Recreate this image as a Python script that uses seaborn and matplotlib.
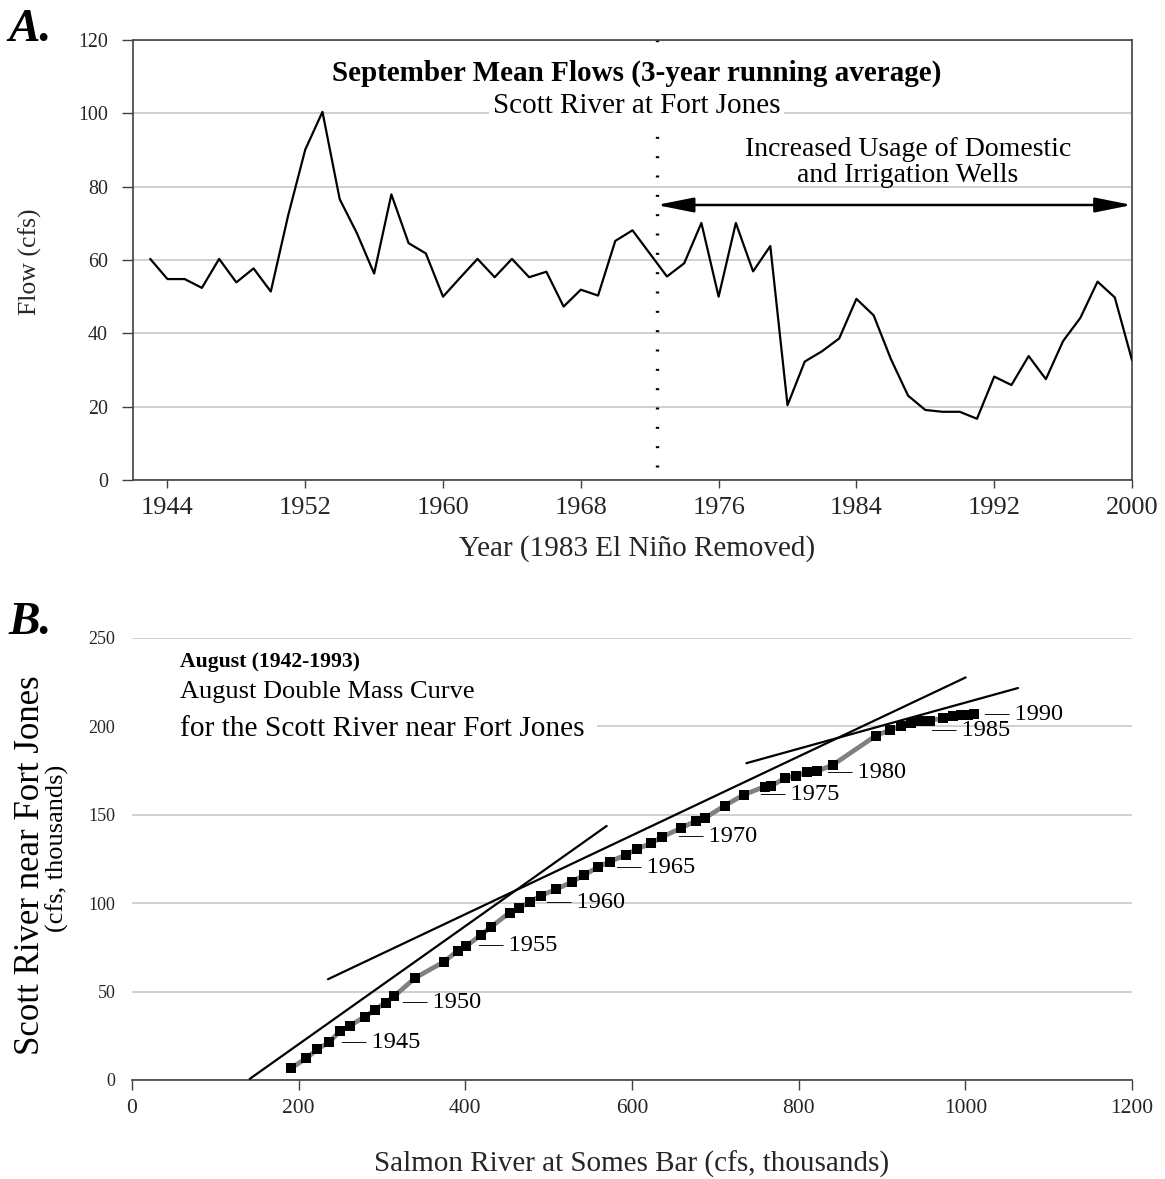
import pandas as pd
import seaborn as sns
import matplotlib.pyplot as plt
from matplotlib.patches import Rectangle

# Panel A: September mean flows, 3-year running average (cfs)
years = list(range(1943, 2001))
flows = [60.3, 54.8, 54.8, 52.4, 60.3, 53.9, 57.7, 51.4, 72.0, 90.1,
         100.4, 76.6, 67.3, 56.3, 77.9, 64.6, 61.8, 50.0, 55.2, 60.3,
         55.3, 60.3, 55.3, 56.8, 47.3, 51.9, 50.3, 65.2, 68.1, 61.8,
         55.5, 59.1, 70.1, 50.0, 70.1, 56.9, 63.8, 20.4, 32.3, 35.1,
         38.6, 49.4, 44.9, 33.0, 23.0, 19.1, 18.6, 18.6, 16.7, 28.2,
         25.9, 33.8, 27.5, 37.9, 44.2, 54.1, 49.8, 32.7]
wells_start = 1972.4
x_ticks_a = list(range(1944, 2001, 8))
y_ticks_a = list(range(0, 121, 20))

# Panel B: August double mass curve (cfs, thousands)
mass_years = list(range(1942, 1994))
salmon = [190.4, 209.3, 222.5, 236.4, 250.1, 261.2, 279.2, 291.2, 304.4, 314.9,
          339.6, 374.1, 391.2, 401.3, 418.4, 430.4, 453.2, 464.0, 477.3, 490.4,
          509.3, 528.5, 542.9, 558.9, 573.3, 592.5, 606.0, 623.3, 636.3, 658.4,
          677.3, 687.2, 711.3, 734.1, 759.3, 767.3, 783.3, 796.5, 809.7, 821.7,
          841.2, 892.5, 909.9, 923.3, 935.3, 945.3, 957.3, 973.3, 984.9, 994.5,
          1002.9, 1010.1]
scott = [6.6, 12.3, 17.4, 21.3, 27.9, 30.6, 35.8, 39.6, 43.8, 47.5,
         57.7, 66.8, 73.2, 75.8, 81.9, 86.4, 94.7, 97.2, 100.6, 104.3,
         107.9, 112.2, 116.0, 120.4, 123.5, 127.3, 130.6, 134.0, 137.5, 142.4,
         146.7, 148.1, 155.2, 161.3, 166.0, 166.4, 170.7, 172.0, 174.0, 174.5,
         178.3, 194.7, 198.1, 200.0, 202.2, 203.2, 203.3, 204.7, 205.6, 206.3,
         206.7, 207.0]
trend_x = [[141.2, 569.6], [235.2, 1000.4], [737.3, 1063.2]]
trend_y = [[0.6, 143.7], [57.0, 227.7], [179.2, 221.7]]
label_years = [1945, 1950, 1955, 1960, 1965, 1970, 1975, 1980, 1985, 1990]

# label offsets in pixels (dx, dy)
label_offsets = {1945: (12, 0), 1950: (16, 0), 1955: (12, 0), 1960: (16, 0),
                 1965: (18, 0), 1970: (16, 0), 1975: (16, 0), 1980: (20, 0),
                 1985: (30, -4), 1990: (31, 2)}

sns.set_theme(style="white")
plt.rcParams["font.family"] = ["Liberation Serif", "DejaVu Serif"]
plt.rcParams["text.color"] = "black"

W, H = 1165, 1179
fig = plt.figure(figsize=(W / 100, H / 100), dpi=100)


def px_axes(left, top, right, bottom):
    return fig.add_axes([left / W, 1 - bottom / H, (right - left) / W, (bottom - top) / H])


spine_col = "#404040"
grid_col = "#c8c8c8"

# ---------------- Panel A ----------------
ax1 = px_axes(133, 40, 1132, 480)
dfa = pd.DataFrame({"year": years, "flow": flows})
sns.lineplot(data=dfa, x="year", y="flow", color="black", lw=1.6, ax=ax1, zorder=3)
ax1.set_xlim(1942, 2000)
ax1.set_ylim(0, 120)
ax1.set_xticks(x_ticks_a)
ax1.set_yticks(y_ticks_a)
ax1.yaxis.grid(True, color=grid_col, lw=1.2)
ax1.xaxis.grid(False)
ax1.set_axisbelow(True)
for s in ax1.spines.values():
    s.set_color(spine_col)
    s.set_linewidth(1.2)
ax1.tick_params(axis="x", bottom=True, direction="out", length=6, width=1,
                color=spine_col, labelsize=19, pad=6)
ax1.tick_params(axis="y", left=True, direction="out", length=8, width=1,
                color=spine_col, labelsize=14.4, pad=10)

ax1.axvline(wells_start, ymin=0.03, ymax=1, color="black", lw=2.4,
            linestyle=(0, (0.6, 5.2)), zorder=2)
ax1.annotate("", xy=(2000, 75), xytext=(wells_start, 75),
             arrowprops=dict(arrowstyle="<|-|>,head_length=1.5,head_width=0.3",
                             color="black", lw=1.8, mutation_scale=15,
                             shrinkA=0, shrinkB=0))
ax1.text(1987, 86.7, "Increased Usage of Domestic\nand Irrigation Wells",
         ha="center", va="center", fontsize=20, linespacing=1.05)
ax1.text(0.504, 0.925, "September Mean Flows (3-year running average)",
         transform=ax1.transAxes, ha="center", va="center", fontsize=21,
         fontweight="bold", zorder=4,
         bbox=dict(facecolor="white", edgecolor="none", pad=1))
ax1.text(0.504, 0.85, "Scott River at Fort Jones", transform=ax1.transAxes,
         ha="center", va="center", fontsize=21, zorder=4,
         bbox=dict(facecolor="white", edgecolor="none", pad=3))

ax1.set_xlabel("Year (1983 El Niño Removed)", fontsize=21)
ax1.xaxis.set_label_coords(0.505, -0.125)
ax1.set_ylabel("Flow (cfs)", fontsize=18.5)
ax1.yaxis.set_label_coords(-0.0915, 0.495)

# ---------------- Panel B ----------------
ax2 = px_axes(132, 638, 1132, 1080)
dfb = pd.DataFrame({"year": mass_years, "salmon": salmon, "scott": scott})
sns.lineplot(data=dfb, x="salmon", y="scott", color="#808080", lw=3.4,
             sort=False, ax=ax2, zorder=2)
sns.scatterplot(data=dfb, x="salmon", y="scott", marker="s", s=58,
                color="black", edgecolor="black", linewidth=0, ax=ax2, zorder=3)
for tx, ty in zip(trend_x, trend_y):
    ax2.plot(tx, ty, color="black", lw=1.6, zorder=4)

ax2.set_xlim(0, 1200)
ax2.set_ylim(0, 250)
ax2.set_xticks(range(0, 1201, 200))
ax2.set_yticks(range(0, 251, 50))
ax2.yaxis.grid(True, color=grid_col, lw=1.2)
ax2.xaxis.grid(False)
ax2.set_axisbelow(True)
for name, s in ax2.spines.items():
    s.set_visible(name == "bottom")
ax2.spines["bottom"].set_color(spine_col)
ax2.spines["bottom"].set_linewidth(1.2)
ax2.tick_params(axis="x", bottom=True, direction="out", length=7, width=1,
                color=spine_col, labelsize=15.5, pad=7)
ax2.tick_params(axis="y", left=False, length=0, labelsize=13, pad=12)

ax2.add_patch(Rectangle((0, 0.77), 0.465, 0.22, transform=ax2.transAxes,
                        facecolor="white", edgecolor="none", zorder=1))
ax2.text(0.0477, 0.946, "August (1942-1993)", transform=ax2.transAxes,
         ha="left", va="center", fontsize=15.6, fontweight="bold", zorder=5)
ax2.text(0.0477, 0.878, "August Double Mass Curve", transform=ax2.transAxes,
         ha="left", va="center", fontsize=19, zorder=5)
ax2.text(0.0477, 0.795, "for the Scott River near Fort Jones",
         transform=ax2.transAxes, ha="left", va="center", fontsize=21.2, zorder=5)

for yr in label_years:
    row = dfb[dfb["year"] == yr].iloc[0]
    dx, dy = label_offsets[yr]
    ax2.annotate(f"— {yr}", xy=(row["salmon"], row["scott"]),
                 xytext=(dx * 0.72, dy * 0.72), textcoords="offset points",
                 ha="left", va="center", fontsize=17.6, zorder=5)

ax2.set_xlabel("Salmon River at Somes Bar (cfs, thousands)", fontsize=21)
ax2.xaxis.set_label_coords(0.5, -0.16)
ax2.set_ylabel("")
ax2.text(-0.101, 0.486, "Scott River near Fort Jones", transform=ax2.transAxes,
         rotation=90, ha="center", va="center", fontsize=25)
ax2.text(-0.075, 0.525, "(cfs, thousands)", transform=ax2.transAxes,
         rotation=90, ha="center", va="center", fontsize=19)

fig.text(8 / W, 1 - 30 / H, "A.", fontsize=34, fontweight="bold",
         fontstyle="italic", ha="left", va="center")
fig.text(8 / W, 1 - 623 / H, "B.", fontsize=34, fontweight="bold",
         fontstyle="italic", ha="left", va="center")

fig.savefig("out.png", dpi=100)
